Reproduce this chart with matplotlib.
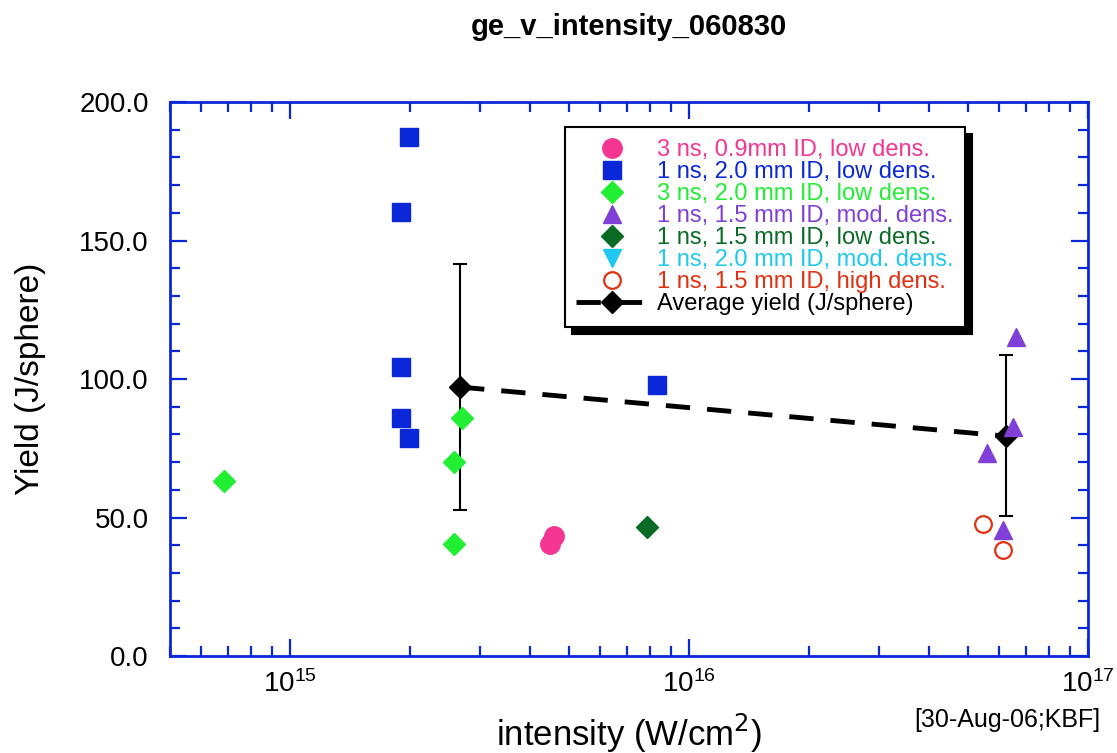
import matplotlib.pyplot as plt
import numpy as np
from matplotlib.ticker import FixedLocator, LogLocator, NullFormatter

plt.rcParams['font.family'] = ['Liberation Sans', 'DejaVu Sans']

# data
pink_x = [4.48e15, 4.59e15]
pink_y = [40.4, 43.3]

blue_x = [1.99e15, 1.90e15, 1.90e15, 1.90e15, 1.99e15, 8.3e15]
blue_y = [187.4, 160.3, 104.3, 85.9, 78.7, 97.8]

green_x = [6.84e14, 2.70e15, 2.58e15, 2.58e15]
green_y = [63.2, 85.9, 70.0, 40.4]

purple_x = [6.59e16, 6.49e16, 5.58e16, 6.12e16]
purple_y = [115.3, 82.7, 73.3, 45.5]

dkgreen_x = [7.85e15]
dkgreen_y = [46.6]

cyan_x = []
cyan_y = []

red_x = [5.46e16, 6.12e16]
red_y = [47.7, 38.3]

avg_x = [2.67e15, 6.22e16]
avg_y = [97.1, 79.4]
avg_hi = [141.5, 108.7]
avg_lo = [52.7, 50.6]

labels = ['3 ns, 0.9mm ID, low dens.', '1 ns, 2.0 mm ID, low dens.',
          '3 ns, 2.0 mm ID, low dens.', '1 ns, 1.5 mm ID, mod. dens.',
          '1 ns, 1.5 mm ID, low dens.', '1 ns, 2.0 mm ID, mod. dens.',
          '1 ns, 1.5 mm ID, high dens.', 'Average yield (J/sphere)']

fig = plt.figure(figsize=(11.17, 7.53), dpi=100)
ax = fig.add_axes([0.152, 0.1288, 0.822, 0.7357])

blue = '#0a28d8'
ax.errorbar(avg_x, avg_y,
            yerr=[np.array(avg_y) - np.array(avg_lo), np.array(avg_hi) - np.array(avg_y)],
            fmt='none', ecolor='black', elinewidth=1.5, capsize=5, capthick=1.5, zorder=2)
h_avg, = ax.plot(avg_x, avg_y, color='black', lw=3.5, dashes=(5, 3.5), marker='D',
                 ms=11, mfc='black', mec='black', zorder=3)

h1, = ax.plot(pink_x, pink_y, 'o', color='#f43592', ms=14, zorder=4)
h2, = ax.plot(blue_x, blue_y, 's', color=blue, ms=13.5, zorder=4)
h3, = ax.plot(green_x, green_y, 'D', color='#22ee33', ms=11, zorder=4)
h4, = ax.plot(purple_x, purple_y, '^', color='#8040d8', ms=13, zorder=4)
h5, = ax.plot(dkgreen_x, dkgreen_y, 'D', color='#0a6b25', ms=11, zorder=4)
h6, = ax.plot(cyan_x, cyan_y, 'v', color='#1ec8f0', ms=13, zorder=4)
h7, = ax.plot(red_x, red_y, 'o', mfc='none', mec='#e23010', mew=1.6, ms=12, zorder=4)

ax.set_xscale('log')
ax.set_xlim(5e14, 1e17)
ax.set_ylim(0, 200)

ax.set_xticks([1e15, 1e16, 1e17])
ax.xaxis.set_minor_locator(LogLocator(base=10, subs=np.arange(2, 10)))
ax.xaxis.set_minor_formatter(NullFormatter())
ax.set_yticks([0, 50, 100, 150, 200])
ax.set_yticklabels(['0.0', '50.0', '100.0', '150.0', '200.0'])
ax.yaxis.set_minor_locator(FixedLocator(np.arange(0, 201, 10)))

for s in ax.spines.values():
    s.set_color(blue)
    s.set_linewidth(2)
ax.tick_params(which='both', direction='in', top=True, right=True, color=blue, width=1.6)
ax.tick_params(which='major', length=12, labelsize=20)
ax.tick_params(axis='y', which='major', pad=15)
ax.tick_params(axis='x', which='major', pad=10)
ax.tick_params(which='minor', length=7)

ax.set_ylabel('Yield (J/sphere)', fontsize=24, labelpad=24)
ax.set_xlabel('intensity (W/cm$^2$)', fontsize=25, labelpad=10)
ax.set_title('ge_v_intensity_060830', fontsize=21, fontweight='bold', pad=48)
fig.text(0.985, 0.044, '[30-Aug-06;KBF]', ha='right', va='center', fontsize=18)

colors = ['#f43592', blue, '#22ee33', '#8040d8', '#0a6b25', '#1ec8f0', '#e23010', 'black']
leg = ax.legend([h1, h2, h3, h4, h5, h6, h7, h_avg], labels,
                loc='upper left', bbox_to_anchor=(0.43, 0.955), borderaxespad=0,
                fontsize=17, labelcolor=colors, frameon=True, fancybox=False,
                handlelength=3.0, handletextpad=0.4, labelspacing=0.0, borderpad=0.5,
                shadow={'color': 'black', 'alpha': 1, 'ox': 5, 'oy': -5})
leg.get_frame().set_edgecolor('black')
leg.get_frame().set_linewidth(1.5)
leg.get_frame().set_alpha(1)

fig.savefig('out.png', dpi=100)
